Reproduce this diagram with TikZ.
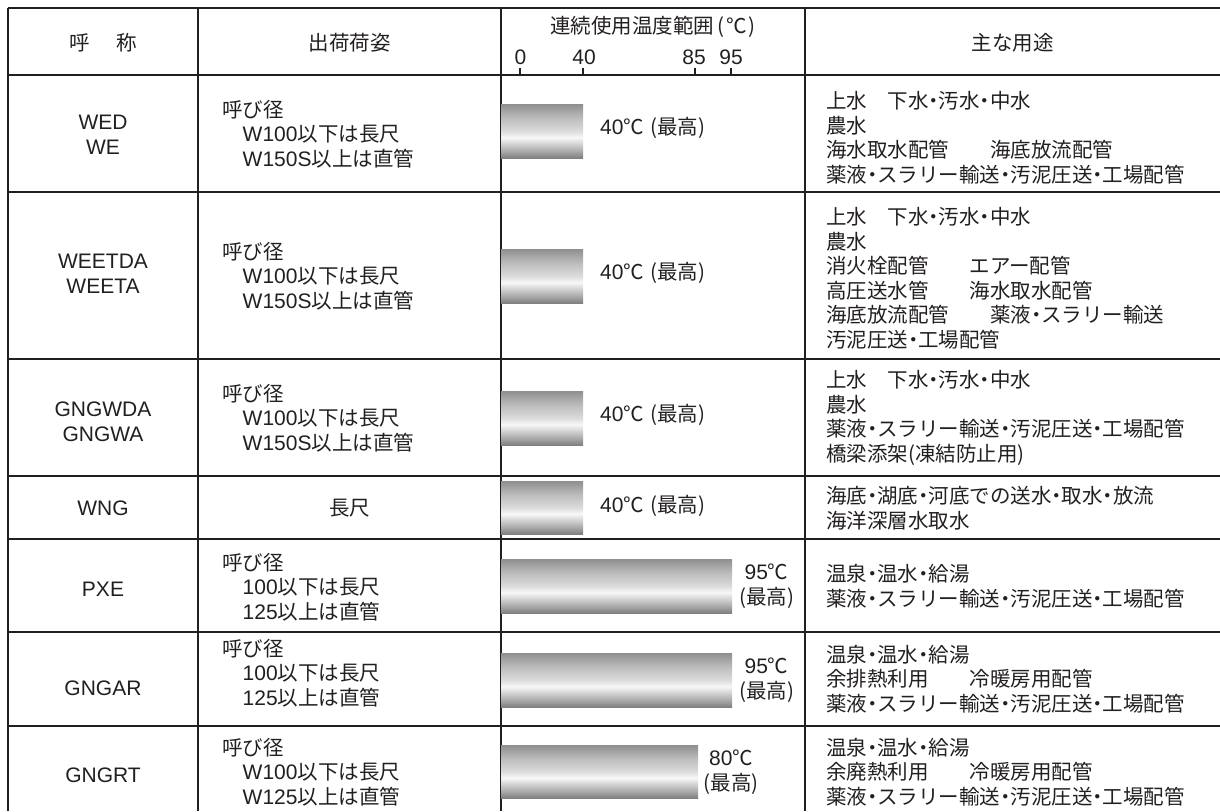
\documentclass[tikz,border=0pt]{standalone}
\usepackage{fontspec}
\setmainfont{Noto Sans CJK JP}
\newfontfamily\latf{Liberation Sans}
\newcommand\LT[1]{{\latf\fontsize{21}{24}\selectfont #1}}
\newcommand\MD{\makebox[0.5em]{・}}
\definecolor{ink}{RGB}{35,31,32}
\definecolor{pB}{gray}{0.50}
\definecolor{pC}{gray}{0.68}
\definecolor{pW}{gray}{0.97}
\definecolor{pL}{gray}{0.86}
\definecolor{pM}{gray}{0.74}
\definecolor{pT}{gray}{0.56}
\pgfdeclareverticalshading{pipe}{100bp}{color(0bp)=(pB); color(25bp)=(pB); color(32bp)=(pC); color(44bp)=(pW); color(50bp)=(pL); color(62bp)=(pM); color(75bp)=(pT); color(100bp)=(pT)}
\tikzset{
  tx/.style={font=\fontsize{20.5}{24.5}\selectfont, text=ink, inner sep=0pt},
  lft/.style={tx, align=left, anchor=west},
  ctr/.style={tx, align=center},
  gridline/.style={draw=ink, line width=1.6pt},
  tick/.style={draw=ink, line width=1.2pt},
  bar/.style={shading=pipe},
}
\newcommand\MAXT[1]{\LT{#1}℃\hspace{0.3em}(最高)}
\begin{document}
\begin{tikzpicture}[x=1pt,y=-1pt]
\useasboundingbox (0,0) rectangle (1220,811);
% grid
\foreach \yy in {8,75,192,359,476,539,632,726}
  \draw[gridline] (8,\yy) -- (1220,\yy);
\foreach \xx in {8,198,501,805}
  \draw[gridline] (\xx,8) -- (\xx,811);
% header
\node[ctr] (h1) at (103,43) {呼\hspace{1.3em}称};
\node[ctr] (h2) at (349.5,43) {出荷荷姿};
\node[ctr] (h3) at (653,27) {連続使用温度範囲\hspace{0.15em}(\hspace{0.1em}℃\hspace{0.1em})};
\node[ctr] (h4) at (1012.5,43) {主な用途};
\node[tx] (k0) at (520.5,57) {\LT{0}};
\node[tx] (k40) at (584,57) {\LT{40}};
\node[tx] (k85) at (694,57) {\LT{85}};
\node[tx] (k95) at (731,57) {\LT{95}};
\foreach \xx in {520,583,695,731}
  \draw[tick] (\xx,68) -- (\xx,75);
% column 1
\node[ctr] (n1) at (103,135) {\LT{WED}\\\LT{WE}};
\node[ctr] (n2) at (103,274) {\LT{WEETDA}\\\LT{WEETA}};
\node[ctr] (n3) at (103,422) {\LT{GNGWDA}\\\LT{GNGWA}};
\node[ctr] (n4) at (103,508) {\LT{WNG}};
\node[ctr] (n5) at (103,589) {\LT{PXE}};
\node[ctr] (n6) at (103,688) {\LT{GNGAR}};
\node[ctr] (n7) at (103,775) {\LT{GNGRT}};
% column 2
\node[lft] (s1) at (222,134) {呼び径\\\hspace*{1em}\LT{W100}以下は長尺\\\hspace*{1em}\LT{W150S}以上は直管};
\node[lft] (s2) at (222,276) {呼び径\\\hspace*{1em}\LT{W100}以下は長尺\\\hspace*{1em}\LT{W150S}以上は直管};
\node[lft] (s3) at (222,418) {呼び径\\\hspace*{1em}\LT{W100}以下は長尺\\\hspace*{1em}\LT{W150S}以上は直管};
\node[ctr] (s4) at (349.5,508) {長尺};
\node[lft] (s5) at (222,587) {呼び径\\\hspace*{1em}\LT{100}以下は長尺\\\hspace*{1em}\LT{125}以上は直管};
\node[lft] (s6) at (222,673) {呼び径\\\hspace*{1em}\LT{100}以下は長尺\\\hspace*{1em}\LT{125}以上は直管};
\node[lft] (s7) at (222,772) {呼び径\\\hspace*{1em}\LT{W100}以下は長尺\\\hspace*{1em}\LT{W125}以上は直管};
% column 3 bars
\shade[bar] (501,104) rectangle (583,158);
\shade[bar] (501,249) rectangle (583,303);
\shade[bar] (501,391) rectangle (583,445);
\shade[bar] (501,481) rectangle (583,534);
\shade[bar] (501,559) rectangle (732,613);
\shade[bar] (501,653) rectangle (732,707);
\shade[bar] (501,745) rectangle (698,798);
\node[lft] (t1) at (600,128) {\MAXT{40}};
\node[lft] (t2) at (600,273) {\MAXT{40}};
\node[lft] (t3) at (600,415) {\MAXT{40}};
\node[lft] (t4) at (600,506) {\MAXT{40}};
\node[ctr] (t5) at (766.5,586) {\LT{95}℃\\(最高)};
\node[ctr] (t6) at (766.5,680) {\LT{95}℃\\(最高)};
\node[ctr] (t7) at (731,772) {\LT{80}℃\\(最高)};
% column 4
\node[lft] (u1) at (826,137.5) {上水　下水\MD 汚水\MD 中水\\農水\\海水取水配管　　海底放流配管\\薬液\MD スラリー輸送\MD 汚泥圧送\MD 工場配管};
\node[lft] (u2) at (826,278) {上水　下水\MD 汚水\MD 中水\\農水\\消火栓配管　　エアー配管\\高圧送水管　　海水取水配管\\海底放流配管　　薬液\MD スラリー輸送\\汚泥圧送\MD 工場配管};
\node[lft] (u3) at (826,418) {上水　下水\MD 汚水\MD 中水\\農水\\薬液\MD スラリー輸送\MD 汚泥圧送\MD 工場配管\\橋梁添架(凍結防止用)};
\node[lft] (u4) at (826,508) {海底\MD 湖底\MD 河底での送水\MD 取水\MD 放流\\海洋深層水取水};
\node[lft] (u5) at (826,586) {温泉\MD 温水\MD 給湯\\薬液\MD スラリー輸送\MD 汚泥圧送\MD 工場配管};
\node[lft] (u6) at (826,679) {温泉\MD 温水\MD 給湯\\余排熱利用　　冷暖房用配管\\薬液\MD スラリー輸送\MD 汚泥圧送\MD 工場配管};
\node[lft] (u7) at (826,772) {温泉\MD 温水\MD 給湯\\余廃熱利用　　冷暖房用配管\\薬液\MD スラリー輸送\MD 汚泥圧送\MD 工場配管};
\end{tikzpicture}
\end{document}
